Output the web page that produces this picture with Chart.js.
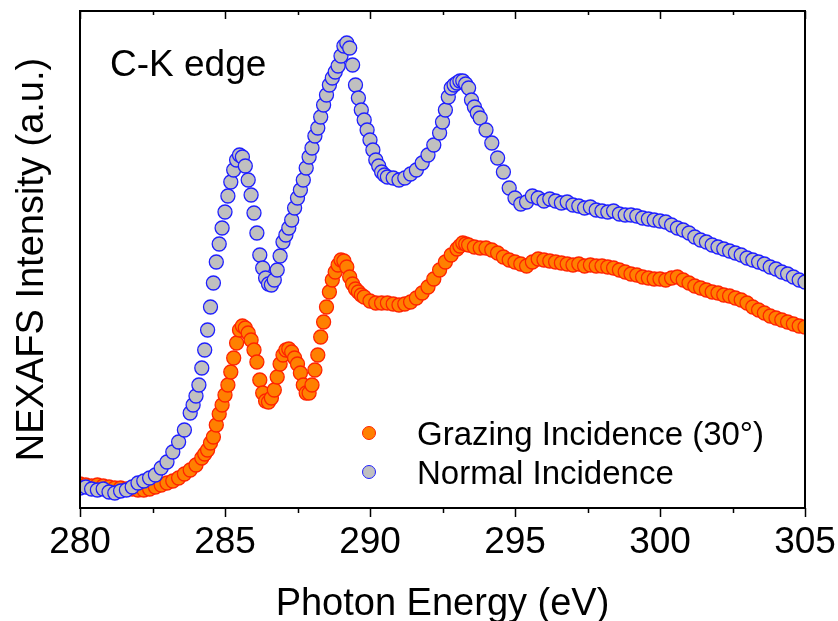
<!DOCTYPE html>
<html lang="en">
<head>
  <meta charset="UTF-8">
  <title>C-K edge NEXAFS</title>
  <script src="https://cdn.jsdelivr.net/npm/chart.js"></script>
  <style>
    body { margin: 0; background: #ffffff; }
    #wrap { width: 838px; height: 621px; position: relative; }
  </style>
</head>
<body>
  <div id="wrap">
    <canvas id="chartNexafs" width="838" height="621"></canvas>
  </div>

  <script>
    // axis
    const xMin = 280, xMax = 305, xStep = 5, xMinorStep = 2.5;
    const yMin = 0, yMax = 4.97;

    // Normal Incidence
    const energyNormal = [
      280.0, 280.2, 280.4, 280.6, 280.8, 281.0, 281.2, 281.4, 281.6, 281.8,
      282.0, 282.2, 282.4, 282.6, 282.8, 283.0, 283.2, 283.4, 283.6, 283.8,
      283.9, 284.0, 284.1, 284.2, 284.3, 284.4, 284.5, 284.6, 284.7, 284.8,
      284.9, 285.0, 285.1, 285.2, 285.3, 285.4, 285.5, 285.6, 285.7, 285.8,
      285.9, 286.0, 286.1, 286.2, 286.3, 286.4, 286.5, 286.6, 286.7, 286.8,
      286.9, 287.0, 287.1, 287.2, 287.3, 287.4, 287.5, 287.6, 287.7, 287.8,
      287.9, 288.0, 288.1, 288.2, 288.3, 288.4, 288.5, 288.6, 288.7, 288.8,
      288.9, 289.0, 289.1, 289.2, 289.3, 289.4, 289.5, 289.6, 289.7, 289.8,
      289.9, 290.0, 290.1, 290.2, 290.3, 290.4, 290.5, 290.6, 290.8, 291.0,
      291.2, 291.4, 291.6, 291.8, 292.0, 292.2, 292.4, 292.5, 292.6, 292.7,
      292.8, 292.9, 293.0, 293.1, 293.2, 293.3, 293.4, 293.5, 293.6, 293.7,
      293.8, 294.0, 294.2, 294.4, 294.6, 294.8, 295.0, 295.2, 295.4, 295.6,
      295.8, 296.0, 296.2, 296.4, 296.6, 296.8, 297.0, 297.2, 297.4, 297.6,
      297.8, 298.0, 298.2, 298.4, 298.6, 298.8, 299.0, 299.2, 299.4, 299.6,
      299.8, 300.0, 300.2, 300.4, 300.6, 300.8, 301.0, 301.2, 301.4, 301.6,
      301.8, 302.0, 302.2, 302.4, 302.6, 302.8, 303.0, 303.2, 303.4, 303.6,
      303.8, 304.0, 304.2, 304.4, 304.6, 304.8, 305.0
    ];
    const intensityNormal = [
      0.20, 0.21, 0.19, 0.18, 0.19, 0.16, 0.15, 0.17, 0.18, 0.21,
      0.25, 0.27, 0.30, 0.33, 0.40, 0.46, 0.56, 0.66, 0.78, 0.95,
      1.03, 1.12, 1.23, 1.40, 1.58, 1.78, 2.01, 2.25, 2.46, 2.64,
      2.80, 2.96, 3.12, 3.26, 3.38, 3.48, 3.53, 3.51, 3.42, 3.28,
      3.13, 2.95, 2.75, 2.53, 2.40, 2.30, 2.24, 2.23, 2.28, 2.38,
      2.52, 2.66, 2.73, 2.80, 2.88, 3.00, 3.10, 3.18, 3.28, 3.40,
      3.51, 3.60, 3.72, 3.80, 3.91, 4.03, 4.13, 4.23, 4.30, 4.36,
      4.42, 4.52, 4.62, 4.65, 4.60, 4.43, 4.23, 4.10, 3.98, 3.88,
      3.78, 3.68, 3.58, 3.48, 3.42, 3.36, 3.33, 3.31, 3.30, 3.28,
      3.30, 3.34, 3.38, 3.45, 3.53, 3.63, 3.75, 3.86, 3.98, 4.11,
      4.20, 4.23, 4.25, 4.27, 4.27, 4.24, 4.20, 4.08, 4.01, 3.95,
      3.90, 3.78, 3.65, 3.50, 3.36, 3.20, 3.10, 3.04, 3.06, 3.12,
      3.10, 3.07, 3.09, 3.07, 3.05, 3.06, 3.03, 3.02, 3.00, 3.01,
      2.98, 2.97, 2.96, 2.97, 2.94, 2.93, 2.93, 2.92, 2.90, 2.89,
      2.88, 2.87, 2.86, 2.83, 2.80, 2.78, 2.75, 2.71, 2.68, 2.66,
      2.63, 2.61, 2.59, 2.57, 2.55, 2.53, 2.50, 2.48, 2.46, 2.44,
      2.41, 2.39, 2.36, 2.34, 2.31, 2.28, 2.26
    ];

    // Grazing Incidence (30°)
    const energyGrazing = [
      280.0, 280.2, 280.4, 280.6, 280.8, 281.0, 281.2, 281.4, 281.6, 281.8,
      282.0, 282.2, 282.4, 282.6, 282.8, 283.0, 283.2, 283.4, 283.6, 283.8,
      284.0, 284.2, 284.3, 284.4, 284.5, 284.6, 284.7, 284.8, 284.9, 285.0,
      285.1, 285.2, 285.3, 285.4, 285.5, 285.6, 285.7, 285.8, 285.9, 286.0,
      286.1, 286.2, 286.3, 286.4, 286.5, 286.6, 286.7, 286.8, 286.9, 287.0,
      287.1, 287.2, 287.3, 287.4, 287.5, 287.6, 287.7, 287.8, 287.9, 288.0,
      288.1, 288.2, 288.3, 288.4, 288.5, 288.6, 288.7, 288.8, 288.9, 289.0,
      289.1, 289.2, 289.3, 289.4, 289.5, 289.6, 289.7, 289.8, 290.0, 290.2,
      290.4, 290.6, 290.8, 291.0, 291.2, 291.4, 291.6, 291.8, 292.0, 292.2,
      292.4, 292.6, 292.8, 293.0, 293.1, 293.2, 293.3, 293.4, 293.6, 293.8,
      294.0, 294.2, 294.4, 294.6, 294.8, 295.0, 295.2, 295.4, 295.6, 295.8,
      296.0, 296.2, 296.4, 296.6, 296.8, 297.0, 297.2, 297.4, 297.6, 297.8,
      298.0, 298.2, 298.4, 298.6, 298.8, 299.0, 299.2, 299.4, 299.6, 299.8,
      300.0, 300.2, 300.4, 300.6, 300.8, 301.0, 301.2, 301.4, 301.6, 301.8,
      302.0, 302.2, 302.4, 302.6, 302.8, 303.0, 303.2, 303.4, 303.6, 303.8,
      304.0, 304.2, 304.4, 304.6, 304.8, 305.0
    ];
    const intensityGrazing = [
      0.24, 0.23, 0.22, 0.23, 0.22, 0.21, 0.20, 0.20, 0.19, 0.19,
      0.18, 0.18, 0.19, 0.21, 0.23, 0.25, 0.27, 0.30, 0.34, 0.38,
      0.43, 0.50, 0.54, 0.58, 0.65, 0.71, 0.83, 0.94, 1.03, 1.13,
      1.23, 1.36, 1.50, 1.65, 1.78, 1.82, 1.80, 1.75, 1.68, 1.58,
      1.46, 1.28, 1.15, 1.07, 1.06, 1.10, 1.18, 1.31, 1.44, 1.53,
      1.58, 1.59, 1.56, 1.50, 1.44, 1.35, 1.23, 1.15, 1.15, 1.23,
      1.38, 1.53, 1.71, 1.86, 2.01, 2.16, 2.28, 2.36, 2.43, 2.48,
      2.47, 2.41, 2.31, 2.24, 2.19, 2.16, 2.13, 2.11, 2.07, 2.05,
      2.05, 2.05, 2.04, 2.03, 2.04, 2.06, 2.10, 2.15, 2.21, 2.29,
      2.38, 2.46, 2.53, 2.59, 2.62, 2.65, 2.64, 2.63, 2.61, 2.60,
      2.60, 2.58, 2.55, 2.51, 2.48, 2.46, 2.44, 2.42, 2.46, 2.49,
      2.48, 2.47, 2.46, 2.45, 2.44, 2.43, 2.44, 2.42, 2.43, 2.42,
      2.42, 2.41, 2.40, 2.38, 2.36, 2.34, 2.33, 2.31, 2.30, 2.29,
      2.29, 2.28, 2.30, 2.31, 2.28, 2.25, 2.22, 2.20, 2.18, 2.16,
      2.15, 2.13, 2.12, 2.10, 2.08, 2.05, 2.01, 1.98, 1.95, 1.92,
      1.90, 1.88, 1.86, 1.84, 1.82, 1.81
    ];

    const FONT = "'Liberation Sans', Arial, sans-serif";

    function toPoints(xs, ys) {
      return xs.map((x, i) => ({ x: x, y: ys[i] }));
    }

    // frame, tick marks, titles, note and legend
    const decorPlugin = {
      id: 'decor',
      afterDatasetsDraw(chart) {
        const { ctx, chartArea: a, scales: { x } } = chart;
        ctx.save();
        ctx.strokeStyle = '#000';
        ctx.lineWidth = 2;
        ctx.strokeRect(a.left, a.top, a.right - a.left, a.bottom - a.top);

        ctx.lineWidth = 1.5;
        for (let v = xMin; v <= xMax + 1e-9; v += xMinorStep) {
          const px = Math.round(x.getPixelForValue(v)) + 0.5;
          const major = Math.abs(v / xStep - Math.round(v / xStep)) < 1e-6;
          ctx.beginPath();
          ctx.moveTo(px, a.bottom);
          ctx.lineTo(px, a.bottom + (major ? 9 : 5));
          ctx.moveTo(px, a.top);
          ctx.lineTo(px, a.top + (major ? 8 : 4));
          ctx.stroke();
        }

        ctx.fillStyle = '#000';
        ctx.textBaseline = 'alphabetic';

        ctx.font = '38px ' + FONT;
        ctx.textAlign = 'center';
        ctx.fillText('Photon Energy (eV)', (a.left + a.right) / 2, 615);

        ctx.save();
        ctx.translate(43, (a.top + a.bottom) / 2);
        ctx.rotate(-Math.PI / 2);
        ctx.fillText('NEXAFS Intensity (a.u.)', 0, 0);
        ctx.restore();

        ctx.textAlign = 'left';
        ctx.font = '37px ' + FONT;
        ctx.fillText('C-K edge', 110, 76);

        // legend in dataset order of the figure
        const order = [1, 0];
        const rows = [433, 472];
        ctx.font = '33px ' + FONT;
        order.forEach((di, k) => {
          const ds = chart.data.datasets[di];
          ctx.beginPath();
          ctx.arc(369, rows[k], 6.5, 0, Math.PI * 2);
          ctx.fillStyle = ds.backgroundColor;
          ctx.fill();
          ctx.lineWidth = 1;
          ctx.strokeStyle = ds.borderColor;
          ctx.stroke();
          ctx.fillStyle = '#000';
          ctx.fillText(ds.label, 417, rows[k] + 12);
        });
        ctx.restore();
      }
    };

    new Chart(document.getElementById('chartNexafs').getContext('2d'), {
      type: 'scatter',
      data: {
        datasets: [
          {
            label: 'Normal Incidence',
            data: toPoints(energyNormal, intensityNormal),
            backgroundColor: '#c0c0c0',
            borderColor: '#1f1fff',
            borderWidth: 1.3,
            pointRadius: 7
          },
          {
            label: 'Grazing Incidence (30°)',
            data: toPoints(energyGrazing, intensityGrazing),
            backgroundColor: '#ff8000',
            borderColor: '#ff2400',
            borderWidth: 1.3,
            pointRadius: 7
          }
        ]
      },
      options: {
        responsive: false,
        animation: false,
        devicePixelRatio: 1,
        layout: { padding: { left: 0, right: 33, top: 11, bottom: 0 } },
        plugins: {
          legend: { display: false },
          tooltip: { enabled: false }
        },
        scales: {
          x: {
            type: 'linear',
            min: xMin,
            max: xMax,
            border: { display: false },
            grid: { display: false, drawTicks: false },
            ticks: {
              stepSize: xStep,
              padding: 16,
              color: '#000',
              font: { family: FONT, size: 37, lineHeight: 1 }
            },
            afterFit(scale) {
              scale.height = 113;
              scale.paddingLeft = 0;
              scale.paddingRight = 0;
            }
          },
          y: {
            min: yMin,
            max: yMax,
            border: { display: false },
            grid: { display: false, drawTicks: false },
            ticks: { display: false },
            afterFit(scale) { scale.width = 80; }
          }
        }
      },
      plugins: [decorPlugin]
    });
  </script>
</body>
</html>
